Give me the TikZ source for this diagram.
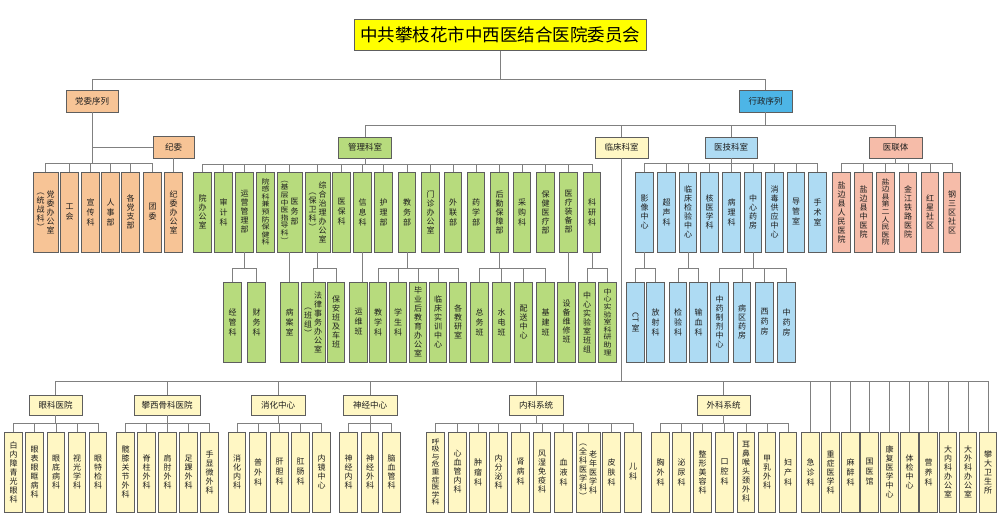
\documentclass[tikz,border=0pt]{standalone}
\usepackage{fontspec}
\usepackage{graphicx}
\newfontfamily\cjk{Noto Sans CJK SC}
\definecolor{orf}{HTML}{F7C496}
\definecolor{grf}{HTML}{B7DB7D}
\definecolor{xzf}{HTML}{4DB5E6}
\definecolor{blf}{HTML}{AEDBF3}
\definecolor{rdf}{HTML}{F6BCA9}
\definecolor{ylf}{HTML}{FFF7C4}
\definecolor{ttf}{HTML}{FFFF00}
\definecolor{bordc}{HTML}{5E5E5E}
\definecolor{lnc}{HTML}{808080}
\definecolor{txtc}{HTML}{1E1E1E}
\newcommand\vsq[1]{\scalebox{1}[0.84]{#1}}
\ExplSyntaxOn
\dim_new:N \l_vt_dim
\bool_new:N \l_vt_long_bool
\NewDocumentCommand\vt{m}{
  \int_set:Nn \l_tmpa_int { \tl_count:n {#1} }
  \bool_set_false:N \l_vt_long_bool
  \int_compare:nNnTF \l_tmpa_int < 4
    { \dim_set:Nn \l_vt_dim {10pt} }
    { \int_compare:nNnTF \l_tmpa_int > 8
        { \dim_set:Nn \l_vt_dim {7.6pt} \bool_set_true:N \l_vt_long_bool }
        { \dim_set:Nn \l_vt_dim {9pt} } }
  \ensuremath{ \vcenter{ \baselineskip=\l_vt_dim \lineskiplimit=-20pt \lineskip=0pt
     \tl_map_inline:nn {#1} { \hbox_to_wd:nn {8pt} { \hss
        \bool_if:NTF \l_vt_long_bool { \vsq{##1} } { ##1 } \hss } } } }
}
\ExplSyntaxOff
\newcommand\tree[3]{%
  \path (0,#2) coordinate (tmpy);
  \coordinate (#1-bus) at (#1.south |- tmpy);
  \draw[ln] (#1.south) -- (#1-bus);
  \foreach \ch in {#3} {\draw[ln] (\ch.north) |- (#1-bus);}
}
\begin{document}
\begin{tikzpicture}[x=1pt,y=-1pt,
  ln/.style={draw=lnc, line width=0.8pt},
  bx/.style={draw=bordc, line width=0.6pt, inner sep=0pt, text=txtc,
    font=\cjk\fontsize{8}{9.5}\selectfont},
  va/.style={bx, minimum width=17.5pt, minimum height=80pt},
  wide/.style={minimum width=25pt},
  hd/.style={bx, minimum width=53pt, minimum height=21pt,
    font=\cjk\fontsize{8.5}{10}\selectfont},
  tt/.style={draw=bordc, line width=0.8pt, fill=ttf, inner sep=0pt, text=black,
    minimum width=292pt, minimum height=31pt, font=\cjk\fontsize{17.5}{20}\selectfont},
  orb/.style={fill=orf}, grb/.style={fill=grf}, xzb/.style={fill=xzf},
  blb/.style={fill=blf}, rdb/.style={fill=rdf}, ylb/.style={fill=ylf}
]
\useasboundingbox[fill=white] (0,0) rectangle (1000,518);

% top level
\node[tt] (title) at (500,35) {中共攀枝花市中西医结合医院委员会};
\node[hd,orb,minimum width=52pt,minimum height=22pt] (dw) at (92,101) {党委序列};
\node[hd,xzb,minimum height=22pt] (xz) at (765.5,101) {行政序列};
\node[hd,orb,minimum width=41pt,minimum height=22pt] (jw) at (173.5,147) {纪委};
\node[hd,grb] (gl) at (365,147.5) {管理科室};
\node[hd,ylb] (lc) at (621.5,147.5) {临床科室};
\node[hd,blb,minimum width=52pt] (yj) at (731,147.5) {医技科室};
\node[hd,rdb] (ylt) at (895.5,147.5) {医联体};

% orange row
\node[va,orb,wide] (o1) at (45.5,212) {\vt{︵统战科︶}\kern2pt\vt{党委办公室}};
\node[va,orb] (o2) at (69.5,212) {\vt{工会}};
\node[va,orb] (o3) at (90.5,212) {\vt{宣传科}};
\node[va,orb] (o4) at (110.5,212) {\vt{人事部}};
\node[va,orb] (o5) at (130.5,212) {\vt{各党支部}};
\node[va,orb] (o6) at (152.5,212) {\vt{团委}};
\node[va,orb] (o7) at (173.5,212) {\vt{纪委办公室}};

% green row A
\node[va,grb] (g1) at (202.5,212) {\vt{院办公室}};
\node[va,grb] (g2) at (223.5,212) {\vt{审计科}};
\node[va,grb] (g3) at (244.5,212) {\vt{运营管理部}};
\node[va,grb] (g4) at (265.5,212) {\vt{院感科兼预防保健科}};
\node[va,grb,wide] (g5) at (289.5,212) {\vt{︵基层中医指导科︶}\kern2pt\vt{医务部}};
\node[va,grb,wide] (g6) at (317.5,212) {\vt{︵保卫科︶}\kern2pt\vt{综合治理办公室}};
\node[va,grb] (g7) at (341.5,212) {\vt{医保科}};
\node[va,grb] (g8) at (362.5,212) {\vt{信息科}};
\node[va,grb] (g9) at (383.5,212) {\vt{护理部}};
\node[va,grb] (g10) at (407,212) {\vt{教务部}};
\node[va,grb] (g11) at (430.5,212) {\vt{门诊办公室}};
\node[va,grb] (g12) at (453,212) {\vt{外联部}};
\node[va,grb] (g13) at (476,212) {\vt{药学部}};
\node[va,grb] (g14) at (499.5,212) {\vt{后勤保障部}};
\node[va,grb] (g15) at (522,212) {\vt{采购科}};
\node[va,grb] (g16) at (545.5,212) {\vt{保健医疗部}};
\node[va,grb] (g17) at (568.5,212) {\vt{医疗装备部}};
\node[va,grb] (g18) at (592,212) {\vt{科研科}};

% blue row A
\node[va,blb] (b1) at (644.5,212) {\vt{影像中心}};
\node[va,blb] (b2) at (666.5,212) {\vt{超声科}};
\node[va,blb] (b3) at (688,212) {\vt{临床检验中心}};
\node[va,blb] (b4) at (709.5,212) {\vt{核医学科}};
\node[va,blb] (b5) at (731.5,212) {\vt{病理科}};
\node[va,blb] (b6) at (753,212) {\vt{中心药房}};
\node[va,blb] (b7) at (774.5,212) {\vt{消毒供应中心}};
\node[va,blb] (b8) at (796,212) {\vt{导管室}};
\node[va,blb] (b9) at (817.5,212) {\vt{手术室}};

% red row
\node[va,rdb] (r1) at (841.5,212) {\vt{盐边县人民医院}};
\node[va,rdb] (r2) at (863.5,212) {\vt{盐边县中医院}};
\node[va,rdb] (r3) at (885.5,212) {\vt{盐边县第二人民医院}};
\node[va,rdb] (r4) at (908,212) {\vt{金江铁路医院}};
\node[va,rdb] (r5) at (930,212) {\vt{红星社区}};
\node[va,rdb] (r6) at (952,212) {\vt{钢三区社区}};

% green row B
\node[va,grb] (gb1) at (232.5,322) {\vt{经管科}};
\node[va,grb] (gb2) at (256.5,322) {\vt{财务科}};
\node[va,grb] (gb3) at (289.5,322) {\vt{病案室}};
\node[va,grb,minimum width=24pt] (gb4) at (313,322) {\vt{︵班组︶}\kern2pt\vt{法律事务办公室}};
\node[va,grb] (gb5) at (336,322) {\vt{保安班及车班}};
\node[va,grb] (gb6) at (358.5,322) {\vt{运维班}};
\node[va,grb] (gb7) at (378,322) {\vt{教学科}};
\node[va,grb] (gb8) at (398,322) {\vt{学生科}};
\node[va,grb] (gb9) at (418,322) {\vt{毕业后教育办公室}};
\node[va,grb] (gb10) at (438,322) {\vt{临床实训中心}};
\node[va,grb] (gb11) at (458,322) {\vt{各教研室}};
\node[va,grb] (gb12) at (479.5,322) {\vt{总务班}};
\node[va,grb] (gb13) at (501.5,322) {\vt{水电班}};
\node[va,grb] (gb14) at (523.5,322) {\vt{配送中心}};
\node[va,grb] (gb15) at (545.5,322) {\vt{基建班}};
\node[va,grb] (gb16) at (566.5,322) {\vt{设备维修班}};
\node[va,grb] (gb17) at (587,322) {\vt{中心实验室班组}};
\node[va,grb] (gb18) at (607.5,322) {\vt{中心实验室科研助理}};

% blue row B
\node[va,blb,align=center] (bb1) at (635.5,322) {\rotatebox{-90}{CT}\\[1pt]室};
\node[va,blb] (bb2) at (655.5,322) {\vt{放射科}};
\node[va,blb] (bb3) at (678,322) {\vt{检验科}};
\node[va,blb] (bb4) at (698.5,322) {\vt{输血科}};
\node[va,blb] (bb5) at (719.5,322) {\vt{中药制剂中心}};
\node[va,blb] (bb6) at (742,322) {\vt{病区药房}};
\node[va,blb] (bb7) at (764.5,322) {\vt{西药房}};
\node[va,blb] (bb8) at (786.5,322) {\vt{中药房}};

% clinical headers
\node[hd,ylb,minimum height=20pt] (h1) at (55.5,405) {眼科医院};
\node[hd,ylb,minimum height=20pt,minimum width=66pt] (h2) at (167,405) {攀西骨科医院};
\node[hd,ylb,minimum height=20pt,minimum width=54pt] (h3) at (278,405) {消化中心};
\node[hd,ylb,minimum height=20pt,minimum width=54pt] (h4) at (370,405) {神经中心};
\node[hd,ylb,minimum height=20pt,minimum width=54pt] (h5) at (536,405) {内科系统};
\node[hd,ylb,minimum height=20pt] (h6) at (723.5,405) {外科系统};

% clinical row
\node[va,ylb] (e1) at (13.5,472) {\vt{白内障青光眼科}};
\node[va,ylb] (e2) at (34.5,472) {\vt{眼表眼眶病科}};
\node[va,ylb] (e3) at (56,472) {\vt{眼底病科}};
\node[va,ylb] (e4) at (77,472) {\vt{视光学科}};
\node[va,ylb] (e5) at (98,472) {\vt{眼特检科}};
\node[va,ylb] (p1) at (125.5,472) {\vt{髋膝关节外科}};
\node[va,ylb] (p2) at (146.5,472) {\vt{脊柱外科}};
\node[va,ylb] (p3) at (167.5,472) {\vt{肩肘外科}};
\node[va,ylb] (p4) at (188.5,472) {\vt{足踝外科}};
\node[va,ylb] (p5) at (209.5,472) {\vt{手显微外科}};
\node[va,ylb] (x1) at (237,472) {\vt{消化内科}};
\node[va,ylb] (x2) at (258,472) {\vt{普外科}};
\node[va,ylb] (x3) at (279.5,472) {\vt{肝胆科}};
\node[va,ylb] (x4) at (300.5,472) {\vt{肛肠科}};
\node[va,ylb] (x5) at (321.5,472) {\vt{内镜中心}};
\node[va,ylb] (n1) at (348.5,472) {\vt{神经内科}};
\node[va,ylb] (n2) at (370,472) {\vt{神经外科}};
\node[va,ylb] (n3) at (391.5,472) {\vt{脑血管科}};
\node[va,ylb] (k1) at (435.5,472) {\vt{呼吸与危重症医学科}};
\node[va,ylb] (k2) at (457.5,472) {\vt{心血管内科}};
\node[va,ylb] (k3) at (478,472) {\vt{肿瘤科}};
\node[va,ylb] (k4) at (498.5,472) {\vt{内分泌科}};
\node[va,ylb] (k5) at (520.5,472) {\vt{肾病科}};
\node[va,ylb] (k6) at (542,472) {\vt{风湿免疫科}};
\node[va,ylb] (k7) at (563.5,472) {\vt{血液科}};
\node[va,ylb,minimum width=24pt] (k8) at (588,472) {\vt{︵全科医学科︶}\kern2pt\vt{老年医学科}};
\node[va,ylb] (k9) at (611.5,472) {\vt{皮肤科}};
\node[va,ylb] (k10) at (633,472) {\vt{儿科}};
\node[va,ylb] (w1) at (660.5,472) {\vt{胸外科}};
\node[va,ylb] (w2) at (681.5,472) {\vt{泌尿科}};
\node[va,ylb] (w3) at (702.5,472) {\vt{整形美容科}};
\node[va,ylb] (w4) at (724.5,472) {\vt{口腔科}};
\node[va,ylb] (w5) at (746,472) {\vt{耳鼻喉头颈外科}};
\node[va,ylb] (w6) at (767,472) {\vt{甲乳外科}};
\node[va,ylb] (w7) at (788,472) {\vt{妇产科}};
\node[va,ylb] (d1) at (810.5,472) {\vt{急诊科}};
\node[va,ylb] (d2) at (830.5,472) {\vt{重症医学科}};
\node[va,ylb] (d3) at (850.5,472) {\vt{麻醉科}};
\node[va,ylb] (d4) at (869.5,472) {\vt{国医馆}};
\node[va,ylb] (d5) at (889.5,472) {\vt{康复医学中心}};
\node[va,ylb] (d6) at (909.5,472) {\vt{体检中心}};
\node[va,ylb] (d7) at (928.5,472) {\vt{营养科}};
\node[va,ylb] (d8) at (948,472) {\vt{大内科办公室}};
\node[va,ylb] (d9) at (968,472) {\vt{大外科办公室}};
\node[va,ylb] (d10) at (988,472) {\vt{攀大卫生所}};

% connectors
\tree{title}{79}{dw,xz}
\tree{dw}{163}{o1,o2,o3,o4,o5,o6}
\draw[ln] (jw.west) -- (jw.west -| dw.south);
\draw[ln] (jw) -- (o7);
\tree{xz}{125}{gl,lc,yj,ylt}
\tree{gl}{164}{g1,g2,g3,g4,g5,g6,g7,g8,g9,g10,g11,g12,g13,g14,g15,g16,g17,g18}
\tree{yj}{163}{b1,b2,b3,b4,b5,b6,b7,b8,b9}
\tree{ylt}{163}{r1,r2,r3,r4,r5,r6}
\tree{g3}{268}{gb1,gb2}
\draw[ln] (g5) -- (gb3);
\tree{g6}{268}{gb4,gb5}
\draw[ln] (g8.south) -- (g8.south |- gb6.north);
\tree{g10}{268}{gb7,gb8,gb9,gb10,gb11}
\tree{g14}{268}{gb12,gb13,gb14,gb15}
\draw[ln] (g17.south) -- (g17.south |- gb16.north);
\tree{g18}{268}{gb17,gb18}
\tree{b1}{268}{bb1,bb2}
\tree{b3}{268}{bb3,bb4}
\tree{b6}{268}{bb5,bb6,bb7,bb8}
\tree{lc}{381}{h1,h2,h3,h4,h5,h6,d1,d2,d3,d4,d5,d6,d7,d8,d9,d10}
\tree{h1}{423}{e1,e2,e3,e4,e5}
\tree{h2}{423}{p1,p2,p3,p4,p5}
\tree{h3}{423}{x1,x2,x3,x4,x5}
\tree{h4}{423}{n1,n2,n3}
\tree{h5}{423}{k1,k2,k3,k4,k5,k6,k7,k8,k9,k10}
\tree{h6}{423}{w1,w2,w3,w4,w5,w6,w7}
\end{tikzpicture}
\end{document}
